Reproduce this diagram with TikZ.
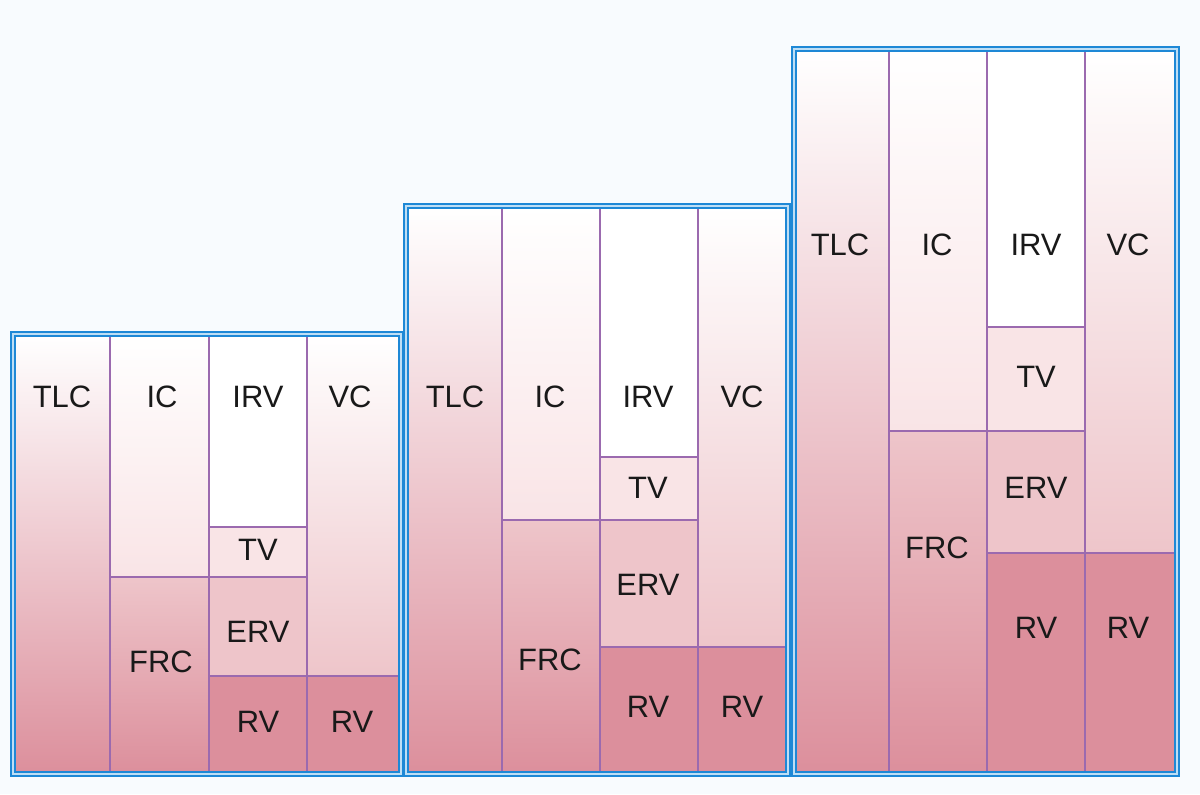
\documentclass[tikz,border=0pt]{standalone}
\usepackage{fontspec}
\setmainfont{Liberation Sans}
\usetikzlibrary{positioning}
\definecolor{pageback}{RGB}{248,251,254}
\definecolor{frameblue}{RGB}{30,136,214}
\definecolor{framelight}{RGB}{190,222,245}
\definecolor{lineviolet}{RGB}{155,106,175}
\definecolor{pinkpale}{RGB}{249,228,230}
\definecolor{pinkmid}{RGB}{238,197,202}
\definecolor{pinkdark}{RGB}{220,143,156}
\definecolor{labelgray}{RGB}{25,25,25}
\tikzset{
    x=0.025cm, y=-0.025cm, % one unit is one pixel of the reference
    every node/.style={font=\fontsize{22}{22}\selectfont, text=labelgray}, % labels
    cell/.style={draw=lineviolet, line width=1.2pt}, % every volume box
    tlcbox/.style={cell, top color=white, bottom color=pinkdark},
    icbox/.style={cell, top color=white, bottom color=pinkpale},
    irvbox/.style={cell, fill=white},
    tvbox/.style={cell, fill=pinkpale},
    ervbox/.style={cell, fill=pinkmid},
    rvbox/.style={cell, fill=pinkdark},
    frcbox/.style={cell, top color=pinkmid, bottom color=pinkdark},
    vcbox/.style={cell, top color=white, bottom color=pinkmid},
    panel/.style={draw=frameblue, double=framelight, line width=1.5pt, double distance=0.8pt}, % blue frame
}

\begin{document}
\begin{tikzpicture}
\fill[pageback] (0,0) rectangle (1200,794);
\useasboundingbox (0,0) rectangle (1200,794);

% first panel
\draw[tlcbox] (14,335) rectangle (110,773);
\draw[icbox] (110,335) rectangle (209,577);
\draw[frcbox] (110,577) rectangle (209,773);
\draw[irvbox] (209,335) rectangle (307,527);
\draw[tvbox] (209,527) rectangle (307,577);
\draw[ervbox] (209,577) rectangle (307,676);
\draw[rvbox] (209,676) rectangle (307,773);
\draw[vcbox] (307,335) rectangle (400,676);
\draw[rvbox] (307,676) rectangle (400,773);
\draw[panel] (13,334) rectangle (401,774);
\node (tlcA) at (62,397) {TLC};
\node (icA) at (162,397) {IC};
\node (irvA) at (258,397) {IRV};
\node (vcA) at (350,397) {VC};
\node (tvA) at (258,550) {TV};
\node (ervA) at (258,632) {ERV};
\node (frcA) at (161,662) {FRC};
\node (rvA) at (258,722) {RV};
\node (rvvA) at (352,722) {RV};

% second panel
\draw[tlcbox] (407,207) rectangle (502,773);
\draw[icbox] (502,207) rectangle (600,520);
\draw[frcbox] (502,520) rectangle (600,773);
\draw[irvbox] (600,207) rectangle (698,457);
\draw[tvbox] (600,457) rectangle (698,520);
\draw[ervbox] (600,520) rectangle (698,647);
\draw[rvbox] (600,647) rectangle (698,773);
\draw[vcbox] (698,207) rectangle (787,647);
\draw[rvbox] (698,647) rectangle (787,773);
\draw[panel] (406,206) rectangle (788,774);
\node (tlcB) at (455,397) {TLC};
\node (icB) at (550,397) {IC};
\node (irvB) at (648,397) {IRV};
\node (vcB) at (742,397) {VC};
\node (tvB) at (648,488) {TV};
\node (ervB) at (648,585) {ERV};
\node (frcB) at (550,660) {FRC};
\node (rvB) at (648,707) {RV};
\node (rvvB) at (742,707) {RV};

% third panel
\draw[tlcbox] (795,50) rectangle (889,773);
\draw[icbox] (889,50) rectangle (987,431);
\draw[frcbox] (889,431) rectangle (987,773);
\draw[irvbox] (987,50) rectangle (1085,327);
\draw[tvbox] (987,327) rectangle (1085,431);
\draw[ervbox] (987,431) rectangle (1085,553);
\draw[rvbox] (987,553) rectangle (1085,773);
\draw[vcbox] (1085,50) rectangle (1176,553);
\draw[rvbox] (1085,553) rectangle (1176,773);
\draw[panel] (794,49) rectangle (1177,774);
\node (tlcC) at (840,245) {TLC};
\node (icC) at (937,245) {IC};
\node (irvC) at (1036,245) {IRV};
\node (vcC) at (1128,245) {VC};
\node (tvC) at (1036,377) {TV};
\node (ervC) at (1036,488) {ERV};
\node (frcC) at (937,548) {FRC};
\node (rvC) at (1036,628) {RV};
\node (rvvC) at (1128,628) {RV};
\end{tikzpicture}
\end{document}
